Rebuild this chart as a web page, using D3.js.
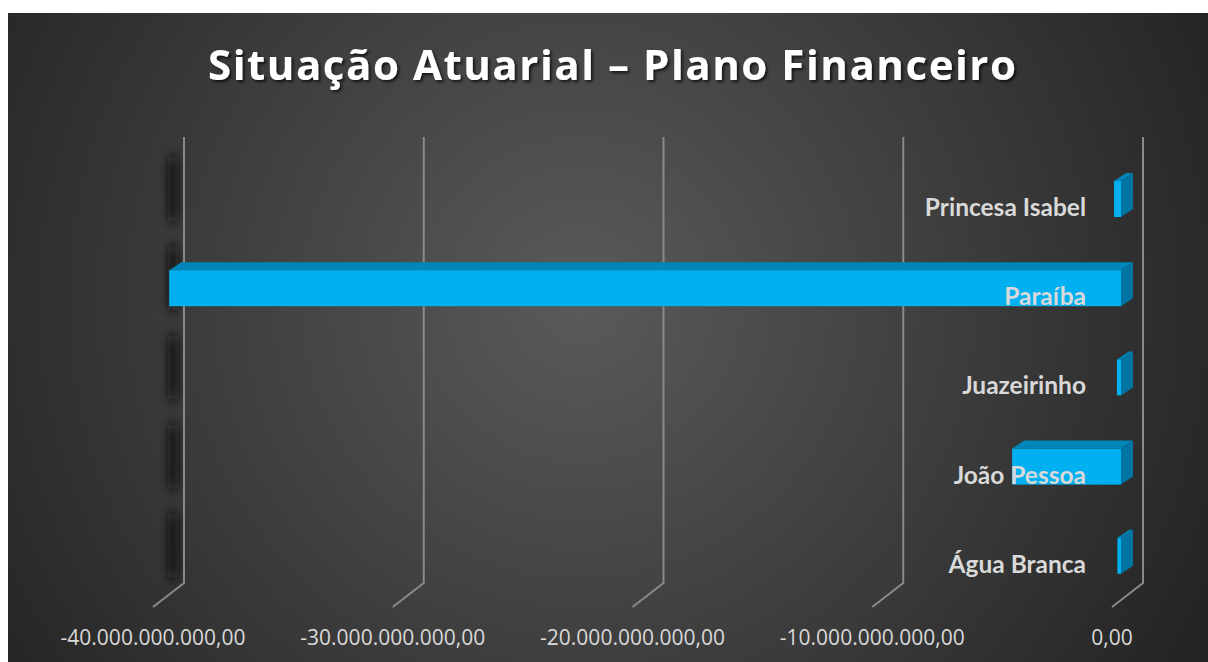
<!DOCTYPE html>
<html>
<head>
<meta charset="utf-8">
<script src="https://cdn.jsdelivr.net/npm/d3@7"></script>
<style>
  body { margin: 0; background: #fff; }
  svg { display: block; }
</style>
</head>
<body>
<div id="chartArea"></div>
<script>
var categories = ['Água Branca', 'João Pessoa', 'Juazeirinho', 'Paraíba', 'Princesa Isabel'];
var values = [-0.15e9, -4.54e9, -0.17e9, -39.7e9, -0.29e9];
var tickValues = [-40e9, -30e9, -20e9, -10e9, 0];
var title = 'Situação Atuarial – Plano Financeiro';

var width = 1208, height = 662;
var svg = d3.select('#chartArea').append('svg').attr('width', width).attr('height', height);
var defs = svg.append('defs');

var grad = defs.append('radialGradient').attr('id', 'bg')
  .attr('gradientUnits', 'userSpaceOnUse')
  .attr('cx', 580).attr('cy', 300).attr('r', 700);
grad.append('stop').attr('offset', '0%').attr('stop-color', '#5a5a5a');
grad.append('stop').attr('offset', '100%').attr('stop-color', '#242424');

var blur = defs.append('filter').attr('id', 'wallShadow')
  .attr('filterUnits', 'userSpaceOnUse')
  .attr('x', 130).attr('y', 120).attr('width', 80).attr('height', 500);
blur.append('feGaussianBlur').attr('stdDeviation', '4 7');

var ts = defs.append('filter').attr('id', 'titleShadow');
ts.append('feDropShadow').attr('dx', 2).attr('dy', 2).attr('stdDeviation', 1.5)
  .attr('flood-color', '#000').attr('flood-opacity', 0.7);

svg.append('rect').attr('x', 8).attr('y', 13).attr('width', width - 8).attr('height', height - 13)
  .attr('fill', 'url(#bg)');

// scales (back wall)
var x = d3.scaleLinear().domain([-40e9, 0]).range([184, 1143]);
var y = d3.scaleBand().domain(categories.slice().reverse()).range([137, 583]);
var depth = { dx: -31, dy: 24 };   // floor depth
var bar = { dx: -22, top: 44, h: 36, ox: 12, oy: -8 };

var loc = d3.formatLocale({ decimal: ',', thousands: '.', grouping: [3], currency: ['', ''], minus: '-' });
var fmt = loc.format(',.2f');

// wall shadow segments
svg.append('g').attr('filter', 'url(#wallShadow)')
  .selectAll('rect').data(categories).enter().append('rect')
  .attr('x', x(-40e9) - 16).attr('width', 10)
  .attr('y', function(d) { return y(d) + 20; })
  .attr('height', 64)
  .attr('fill', '#080808').attr('opacity', 0.9);

// gridlines
var grid = svg.append('g');
grid.selectAll('path').data(tickValues).enter().append('path')
  .attr('d', function(d) {
    var bx = x(d);
    return 'M' + bx + ',137 L' + bx + ',583 L' + (bx + depth.dx) + ',' + (583 + depth.dy);
  })
  .attr('fill', 'none').attr('stroke', '#8a8a8a').attr('stroke-width', 2);

// tick labels
svg.append('g').selectAll('text').data(tickValues).enter().append('text')
  .attr('x', function(d) { return x(d) + depth.dx; })
  .attr('y', 645)
  .attr('text-anchor', 'middle')
  .attr('fill', '#d9d9d9')
  .style('font-family', 'Open Sans, sans-serif')
  .style('font-size', '21px')
  .text(function(d) { return fmt(d); });

// bars
var bars = svg.append('g').selectAll('g').data(categories).enter().append('g');
bars.each(function(d, i) {
  var g = d3.select(this);
  var x0 = x(0) + bar.dx, x1 = x(values[i]) + bar.dx;
  var t = y(d) + bar.top, b = t + bar.h;
  g.append('path')
    .attr('d', 'M' + x1 + ',' + t + ' L' + (x1 + bar.ox) + ',' + (t + bar.oy) + ' L' + (x0 + bar.ox) + ',' + (t + bar.oy) + ' L' + x0 + ',' + t + 'Z')
    .attr('fill', '#0086b8');
  g.append('path')
    .attr('d', 'M' + x0 + ',' + t + ' L' + (x0 + bar.ox) + ',' + (t + bar.oy) + ' L' + (x0 + bar.ox) + ',' + (b + bar.oy) + ' L' + x0 + ',' + b + 'Z')
    .attr('fill', '#0074a2');
  g.append('rect').attr('x', x1).attr('y', t).attr('width', x0 - x1).attr('height', bar.h)
    .attr('fill', '#00b0f0');
});

// category labels
svg.append('g').selectAll('text').data(categories).enter().append('text')
  .attr('x', 1086)
  .attr('y', function(d) { return y(d) + bar.top + bar.h - 1; })
  .attr('text-anchor', 'end')
  .attr('fill', '#d9d9d9')
  .style('font-family', 'Lato, sans-serif')
  .style('font-weight', 'bold')
  .style('font-size', '24.5px')
  .text(function(d) { return d; });

// title
svg.append('text')
  .attr('x', 612).attr('y', 80)
  .attr('text-anchor', 'middle')
  .attr('fill', '#ffffff')
  .attr('textLength', 808).attr('lengthAdjust', 'spacing')
  .attr('filter', 'url(#titleShadow)')
  .style('font-family', 'Open Sans, sans-serif')
  .style('font-weight', 'bold')
  .style('font-size', '42px')
  .text(title);
</script>
</body>
</html>
